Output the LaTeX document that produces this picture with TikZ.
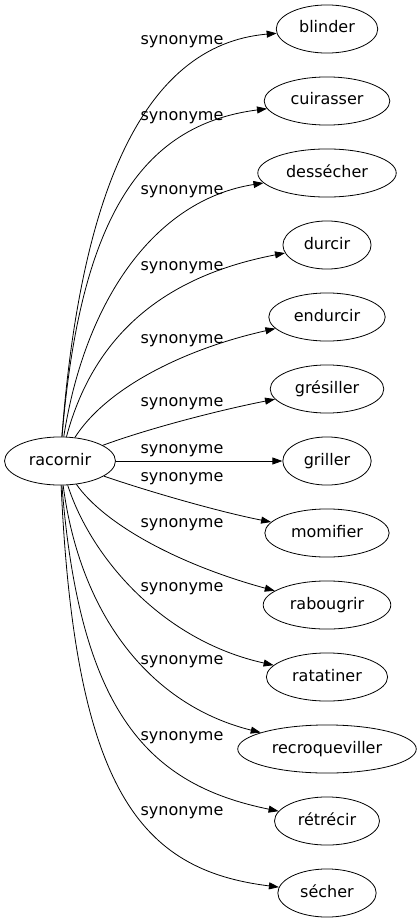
\documentclass[tikz,border=0pt]{standalone}
\usepackage{fontspec}
\setmainfont{DejaVu Sans}
\usetikzlibrary{shapes.geometric,arrows.meta}
\begin{document}
\begin{tikzpicture}[x=1pt,y=-1pt,
    word/.style={shape=ellipse,draw=black,line width=0.8pt,inner xsep=8pt,inner ysep=9pt,
      text height=12pt,text depth=4pt,font=\fontsize{16}{19}\selectfont},
    syn/.style={inner sep=0pt,font=\fontsize{16}{19}\selectfont},
    link/.style={->,line width=0.8pt},
    >={Triangle[length=10pt,width=7pt]}]
    \useasboundingbox (0,0) rectangle (420,923);
    \node[word] (racornir) at (60,461) {racornir};
    \node[word] (blinder) at (327,29) {blinder};
    \node[word] (cuirasser) at (327,101) {cuirasser};
    \node[word] (dessecher) at (327,173) {dessécher};
    \node[word] (durcir) at (327,245) {durcir};
    \node[word] (endurcir) at (327,317) {endurcir};
    \node[word] (gresiller) at (327,389) {grésiller};
    \node[word] (griller) at (327,461) {griller};
    \node[word] (momifier) at (327,533) {momifier};
    \node[word] (rabougrir) at (327,605) {rabougrir};
    \node[word] (ratatiner) at (327,677) {ratatiner};
    \node[word] (recroqueviller) at (327,749) {recroqueviller};
    \node[word] (retrecir) at (327,821) {rétrécir};
    \node[word] (secher) at (327,893) {sécher};
    % labels
    \node[syn] (s1) at (182,42) {synonyme};
    \node[syn] (s2) at (182,118) {synonyme};
    \node[syn] (s3) at (182,192) {synonyme};
    \node[syn] (s4) at (182,268) {synonyme};
    \node[syn] (s5) at (182,341) {synonyme};
    \node[syn] (s6) at (182,404) {synonyme};
    \node[syn] (s7) at (182,451) {synonyme};
    \node[syn] (s8) at (182,479) {synonyme};
    \node[syn] (s9) at (182,525) {synonyme};
    \node[syn] (s10) at (182,589) {synonyme};
    \node[syn] (s11) at (182,662) {synonyme};
    \node[syn] (s12) at (182,738) {synonyme};
    \node[syn] (s13) at (182,813) {synonyme};
    % edges
    \draw[link] (racornir) .. controls (80,200) and (140,45) .. (blinder);
    \draw[link] (racornir) .. controls (80,220) and (140,125) .. (cuirasser);
    \draw[link] (racornir) .. controls (85,300) and (155,200) .. (dessecher);
    \draw[link] (racornir) .. controls (95,330) and (170,275) .. (durcir);
    \draw[link] (racornir) .. controls (105,390) and (180,350) .. (endurcir);
    \draw[link] (racornir) .. controls (150,428) and (220,410) .. (gresiller);
    \draw[link] (racornir) -- (griller);
    \draw[link] (racornir) .. controls (150,492) and (220,512) .. (momifier);
    \draw[link] (racornir) .. controls (105,525) and (180,565) .. (rabougrir);
    \draw[link] (racornir) .. controls (90,555) and (160,640) .. (ratatiner);
    \draw[link] (racornir) .. controls (80,615) and (150,705) .. (recroqueviller);
    \draw[link] (racornir) .. controls (80,715) and (150,785) .. (retrecir);
    \draw[link] (racornir) .. controls (75,790) and (140,870) .. (secher);
\end{tikzpicture}
\end{document}
